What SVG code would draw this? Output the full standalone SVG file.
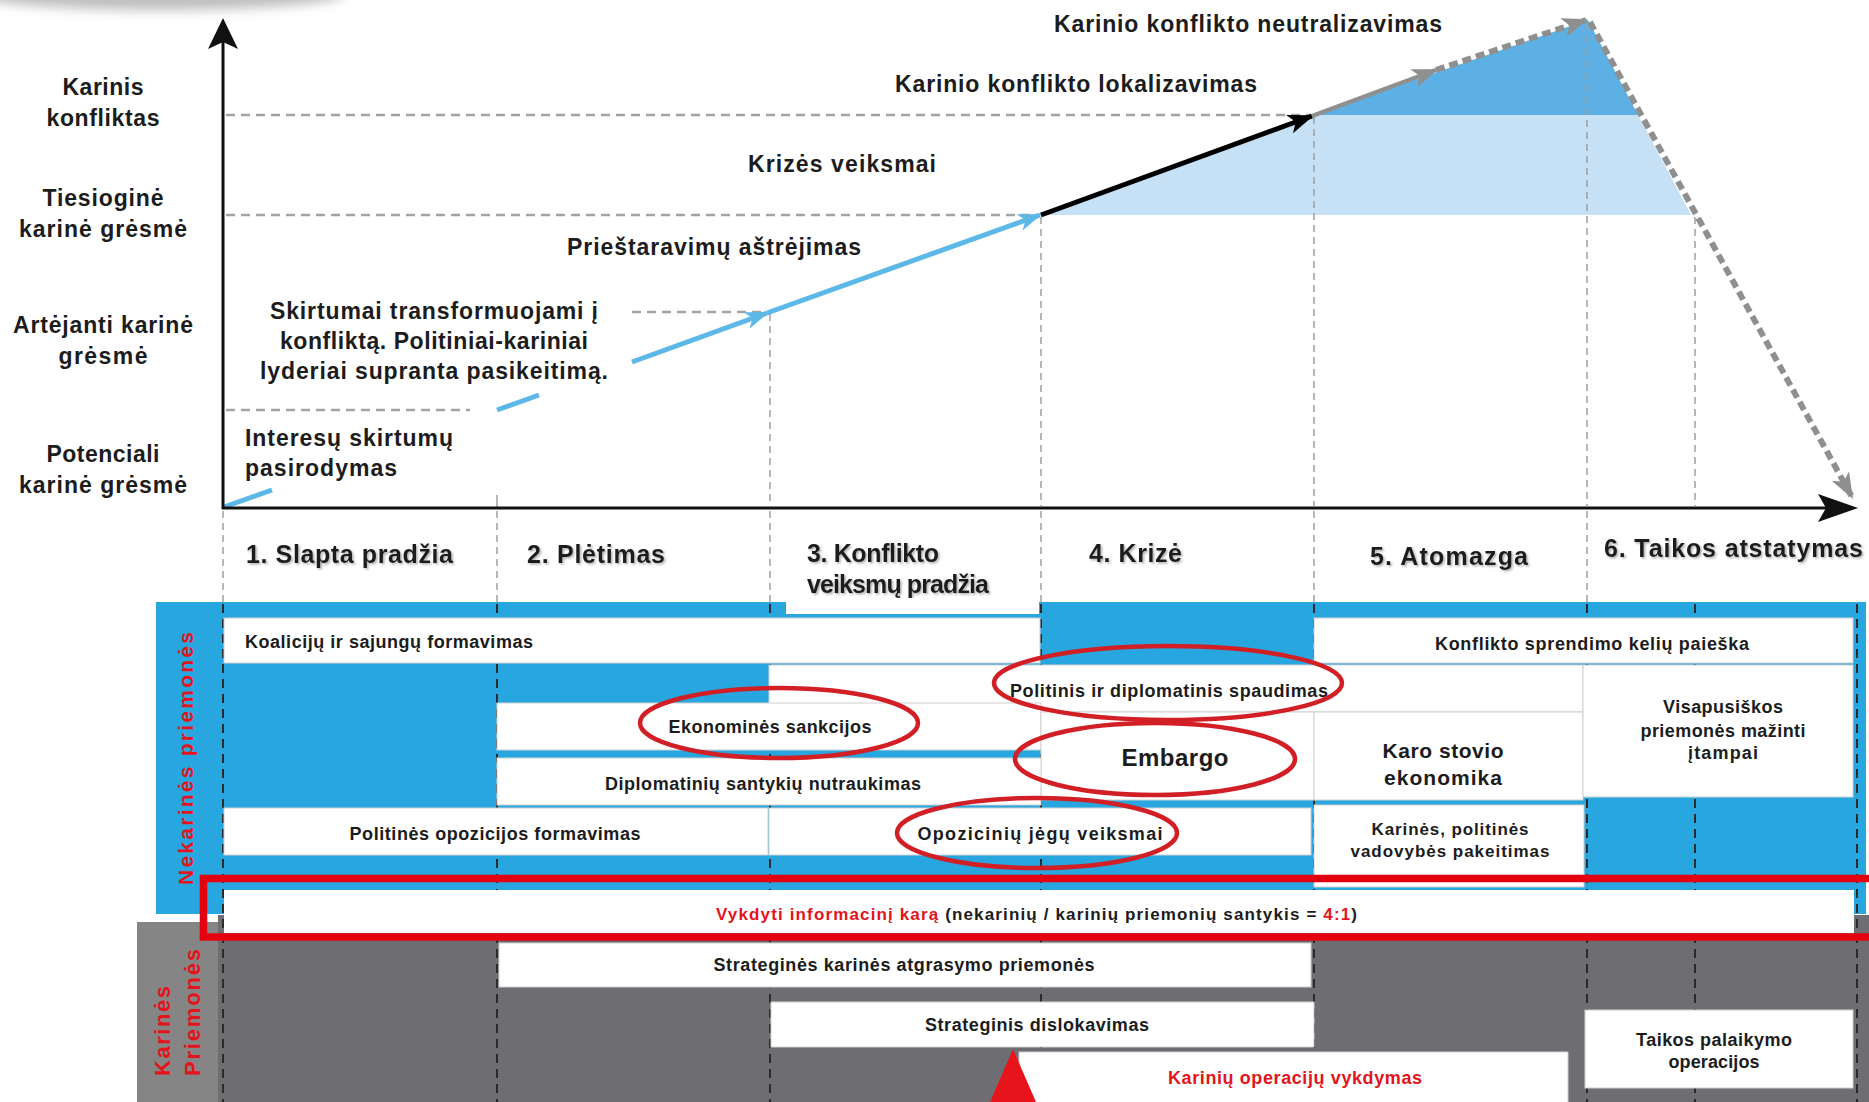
<svg xmlns="http://www.w3.org/2000/svg" width="1869" height="1102" viewBox="0 0 1869 1102">
<style>
.t{font-family:"Liberation Sans",Arial,sans-serif;font-weight:bold;fill:#1c1c1c}
.big{font-size:23px}
.ph{font-size:25px}
.bx{font-size:18px}
.m{text-anchor:middle}
.red{fill:#E3141B}
.wb{fill:#fff;stroke:#cfcfcf;stroke-width:1}
.hd{stroke:#a3a3a3;stroke-width:2.5;stroke-dasharray:9 6;fill:none}
.vd{stroke:#a0a0a0;stroke-width:1.5;stroke-dasharray:7 5;fill:none}
.vk{stroke:#2b2b2b;stroke-width:2;stroke-dasharray:9 6;fill:none}
.ell{fill:none;stroke:#D21F26;stroke-width:4.5}
.lb{stroke:#5CB8E6;stroke-width:5;fill:none}
.gd{stroke:#8f8f8f;stroke-width:6;stroke-dasharray:9 5;fill:none}
</style>
<defs>
<filter id="blur" x="-50%" y="-50%" width="200%" height="200%"><feGaussianBlur stdDeviation="6"/></filter>
<filter id="sh" x="-5%" y="-20%" width="110%" height="140%"><feDropShadow dx="1.5" dy="1.5" stdDeviation="1" flood-color="#777" flood-opacity="0.6"/></filter>
<marker id="mlb" viewBox="0 0 22 16" refX="20" refY="8" markerWidth="24" markerHeight="18" orient="auto" markerUnits="userSpaceOnUse"><path d="M0,0 L22,8 L0,16 L6,8 Z" fill="#5CB8E6"/></marker>
<marker id="mbk" viewBox="0 0 24 18" refX="22" refY="9" markerWidth="26" markerHeight="20" orient="auto" markerUnits="userSpaceOnUse"><path d="M0,0 L24,9 L0,18 L6,9 Z" fill="#000"/></marker>
<marker id="mgr" viewBox="0 0 24 18" refX="22" refY="9" markerWidth="26" markerHeight="20" orient="auto" markerUnits="userSpaceOnUse"><path d="M0,0 L24,9 L0,18 L6,9 Z" fill="#8f8f8f"/></marker>
</defs>
<rect width="1869" height="1102" fill="#fff"/>
<ellipse cx="160" cy="-6" rx="185" ry="16" fill="#bdbdbd" filter="url(#blur)"/>

<!-- upper chart fills -->
<g id="fills">
<polygon points="1041,215 1313,115 1638,115 1691,215" fill="#C6E0F5"/>
<polygon points="1313,115 1588,20 1638,115" fill="#5DB0E4"/>
</g>

<!-- guide lines -->
<g id="guides">
<line class="hd" x1="226" y1="115" x2="1311" y2="115"/>
<line class="hd" x1="226" y1="215" x2="1040" y2="215"/>
<line class="hd" x1="632" y1="312" x2="766" y2="312"/>
<line class="hd" x1="226" y1="410" x2="470" y2="410"/>
<line class="vd" x1="770" y1="314" x2="770" y2="506"/>
<line class="vd" x1="1041" y1="217" x2="1041" y2="506"/>
<line class="vd" x1="1314" y1="117" x2="1314" y2="506"/>
<line class="vd" x1="1587" y1="24" x2="1587" y2="506"/>
<line class="vd" x1="1695" y1="217" x2="1695" y2="506"/>
<line x1="497" y1="495" x2="497" y2="507" stroke="#a0a0a0" stroke-width="1.5"/>
<line class="vd" x1="223" y1="511" x2="223" y2="602"/>
<line class="vd" x1="497" y1="511" x2="497" y2="602"/>
<line class="vd" x1="770" y1="511" x2="770" y2="602"/>
<line class="vd" x1="1041" y1="511" x2="1041" y2="602"/>
<line class="vd" x1="1314" y1="511" x2="1314" y2="602"/>
<line class="vd" x1="1587" y1="511" x2="1587" y2="602"/>
</g>

<!-- escalation connectors -->
<g id="connectors">
<line class="lb" x1="224" y1="507" x2="272" y2="490"/>
<line class="lb" x1="497" y1="410" x2="539" y2="395"/>
<line class="lb" x1="632" y1="362" x2="767" y2="313" marker-end="url(#mlb)"/>
<line class="lb" x1="767" y1="313" x2="1040" y2="215" marker-end="url(#mlb)"/>
<line x1="1041" y1="215" x2="1312" y2="116" stroke="#000" stroke-width="5" marker-end="url(#mbk)"/>
<line x1="1312" y1="116" x2="1436" y2="70" stroke="#8f8f8f" stroke-width="4.5" marker-end="url(#mgr)"/>
<line class="gd" x1="1436" y1="70" x2="1586" y2="20" marker-end="url(#mgr)"/>
<line class="gd" x1="1590" y1="22" x2="1852" y2="497" marker-end="url(#mgr)"/>
</g>

<!-- axes -->
<g id="axes">
<line x1="223" y1="509" x2="223" y2="40" stroke="#111" stroke-width="3"/>
<polygon points="223,18 238,49 223,42 208,49" fill="#111"/>
<line x1="222" y1="508" x2="1830" y2="508" stroke="#111" stroke-width="3"/>
<polygon points="1858,508 1818,494 1826,508 1818,522" fill="#111"/>
</g>

<!-- y-axis level labels -->
<g id="levels" class="t big m">
<text x="103" y="95" textLength="81">Karinis</text>
<text x="103" y="126" textLength="113">konfliktas</text>
<text x="103" y="206" textLength="121">Tiesioginė</text>
<text x="103" y="237" textLength="168">karinė grėsmė</text>
<text x="103" y="333" textLength="180">Artėjanti karinė</text>
<text x="103" y="364" textLength="89">grėsmė</text>
<text x="103" y="462" textLength="113">Potenciali</text>
<text x="103" y="493" textLength="168">karinė grėsmė</text>
</g>

<!-- stage labels on the curve -->
<g id="stages" class="t big">
<text x="1054" y="32" textLength="388">Karinio konflikto neutralizavimas</text>
<text x="895" y="92" textLength="362">Karinio konflikto lokalizavimas</text>
<text x="748" y="172" textLength="188">Krizės veiksmai</text>
<text x="567" y="255" textLength="294">Prieštaravimų aštrėjimas</text>
<text x="434" y="319" class="m" textLength="328">Skirtumai transformuojami į</text>
<text x="434" y="349" class="m" textLength="308">konfliktą. Politiniai-kariniai</text>
<text x="434" y="379" class="m" textLength="348">lyderiai supranta pasikeitimą.</text>
<text x="245" y="446" textLength="208">Interesų skirtumų</text>
<text x="245" y="476" textLength="152">pasirodymas</text>
</g>

<!-- phase labels -->
<g id="phases" class="t ph" filter="url(#sh)">
<text x="246" y="563" textLength="207">1. Slapta pradžia</text>
<text x="527" y="563" textLength="138">2. Plėtimas</text>
<text x="807" y="562" textLength="132">3. Konflikto</text>
<text x="807" y="593" textLength="182">veiksmų pradžia</text>
<text x="1089" y="562" textLength="93">4. Krizė</text>
<text x="1370" y="565" textLength="158">5. Atomazga</text>
<text x="1604" y="557" textLength="259">6. Taikos atstatymas</text>
</g>

<!-- panels -->
<g id="panels">
<rect x="156" y="602" width="1710" height="312" fill="#27A6DF"/>
<rect x="786" y="598" width="253" height="16" fill="#fff"/>
<rect x="218" y="915" width="1651" height="187" fill="#6E6E72"/>
<rect x="137" y="922" width="81" height="180" fill="#858585"/>
</g>

<g id="panel-guides">
<line class="vk" x1="223" y1="604" x2="223" y2="1102"/>
<line class="vk" x1="497" y1="604" x2="497" y2="1102"/>
<line class="vk" x1="770" y1="604" x2="770" y2="1102"/>
<line class="vk" x1="1041" y1="604" x2="1041" y2="1102"/>
<line class="vk" x1="1314" y1="604" x2="1314" y2="1102"/>
<line class="vk" x1="1587" y1="604" x2="1587" y2="1102"/>
<line class="vk" x1="1695" y1="604" x2="1695" y2="1102"/>
<line class="vk" x1="1857" y1="604" x2="1857" y2="1102"/>
</g>

<g id="panel-labels" class="t">
<text transform="translate(193,885) rotate(-90)" style="font-size:21px" class="red" textLength="253">Nekarinės priemonės</text>
<text transform="translate(170,1076) rotate(-90)" style="font-size:22px" class="red" textLength="90">Karinės</text>
<text transform="translate(200,1076) rotate(-90)" style="font-size:22px" class="red" textLength="127">Priemonės</text>
</g>

<!-- non-military measures -->
<g id="n-koalicija"><rect class="wb" x="224" y="618" width="816" height="45"/><text class="t bx" x="245" y="648" textLength="288">Koalicijų ir sajungų formavimas</text></g>
<g id="n-sprendimas"><rect class="wb" x="1314" y="618" width="539" height="45"/><text class="t bx m" x="1592" y="650" textLength="314">Konflikto sprendimo kelių paieška</text></g>
<g id="n-politinis"><rect class="wb" x="769" y="665" width="814" height="47"/><text class="t bx m" x="1169" y="697" textLength="318">Politinis ir diplomatinis spaudimas</text></g>
<g id="n-ekonomines"><rect class="wb" x="497" y="703" width="544" height="47"/><text class="t bx m" x="770" y="733" textLength="203">Ekonominės sankcijos</text></g>
<g id="n-embargo"><rect class="wb" x="1041" y="712" width="273" height="88"/><text class="t m" style="font-size:24px" x="1175" y="766" textLength="107">Embargo</text></g>
<g id="n-diplomatiniu"><rect class="wb" x="497" y="758" width="544" height="47"/><text class="t bx m" x="763" y="790" textLength="316">Diplomatinių santykių nutraukimas</text></g>
<g id="n-karo-stovio"><rect class="wb" x="1314" y="712" width="269" height="88"/><text class="t m" style="font-size:21px" x="1443" y="758" textLength="121">Karo stovio</text><text class="t m" style="font-size:21px" x="1443" y="785" textLength="118">ekonomika</text></g>
<g id="n-visapusiskos"><rect class="wb" x="1583" y="665" width="270" height="132"/><text class="t bx m" x="1723" y="713" textLength="120">Visapusiškos</text><text class="t bx m" x="1723" y="737" textLength="165">priemonės mažinti</text><text class="t bx m" x="1723" y="759" textLength="70">įtampai</text></g>
<g id="n-opozicija"><rect class="wb" x="224" y="808" width="544" height="47"/><text class="t bx m" x="495" y="840" textLength="291">Politinės opozicijos formavimas</text></g>
<g id="n-opoziciniu"><rect class="wb" x="769" y="808" width="542" height="47"/><text class="t bx m" x="1040" y="840" textLength="245">Opozicinių jėgų veiksmai</text></g>
<g id="n-vadovybes"><rect class="wb" x="1314" y="805" width="270" height="82"/><text class="t m" style="font-size:17px" x="1450" y="835" textLength="157">Karinės, politinės</text><text class="t m" style="font-size:17px" x="1450" y="857" textLength="199">vadovybės pakeitimas</text></g>

<!-- information war -->
<g id="n-informacinis">
<rect x="224" y="890" width="1630" height="43" fill="#fff"/>
<text class="t" style="font-size:17px" x="716" y="920" textLength="641"><tspan class="red">Vykdyti informacinį karą</tspan> (nekarinių / karinių priemonių santykis = <tspan class="red">4:1</tspan>)</text>
<path d="M1875,878.5 H203.5 V937 H1875" fill="none" stroke="#E3000F" stroke-width="7.5"/>
</g>

<!-- military measures -->
<g id="k-atgrasymas"><rect class="wb" x="499" y="943" width="812" height="44"/><text class="t bx m" x="904" y="971" textLength="381">Strateginės karinės atgrasymo priemonės</text></g>
<g id="k-dislokavimas"><rect class="wb" x="771" y="1002" width="543" height="45"/><text class="t bx m" x="1037" y="1031" textLength="224">Strateginis dislokavimas</text></g>
<g id="k-operacijos"><rect class="wb" x="1019" y="1052" width="549" height="55"/><text class="t bx m red" x="1295" y="1084" textLength="254">Karinių operacijų vykdymas</text></g>
<g id="k-taikos"><rect class="wb" x="1585" y="1010" width="268" height="78"/><text class="t bx m" x="1714" y="1046" textLength="156">Taikos palaikymo</text><text class="t bx m" x="1714" y="1068" textLength="91">operacijos</text></g>
<g id="k-triangle"><polygon points="1013,1049 990,1102 1036,1102" fill="#E8141C"/></g>

<!-- highlight ellipses -->
<g id="highlights">
<ellipse class="ell" cx="779" cy="723" rx="139" ry="35"/>
<ellipse class="ell" cx="1168" cy="683" rx="174" ry="37"/>
<ellipse class="ell" cx="1155" cy="759" rx="140" ry="36"/>
<ellipse class="ell" cx="1037" cy="833" rx="140" ry="35"/>
</g>
</svg>
